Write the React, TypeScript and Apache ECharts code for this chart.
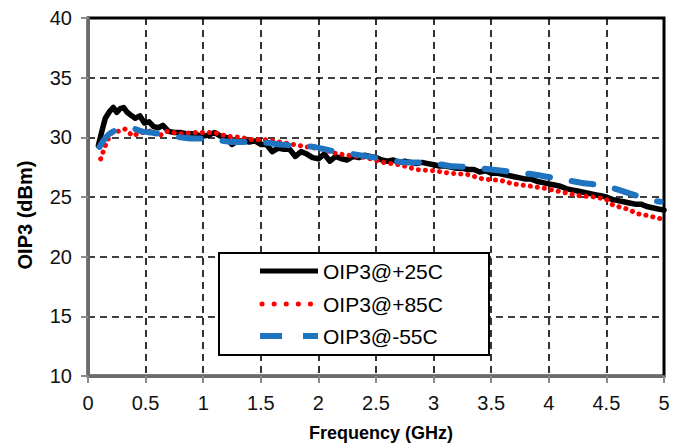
import React, { useEffect, useRef } from "react";
import * as echarts from "echarts";

const freq25 = [0.09,0.12,0.15,0.19,0.22,0.25,0.28,0.31,0.34,0.38,0.41,0.45,0.49,0.53,0.57,0.61,0.65,0.70,0.75,0.80,0.85,0.90,0.95,1.00,1.05,1.10,1.15,1.20,1.25,1.30,1.35,1.40,1.45,1.50,1.55,1.60,1.65,1.70,1.75,1.80,1.85,1.90,1.95,2.00,2.05,2.10,2.15,2.20,2.25,2.30,2.35,2.40,2.45,2.50,2.55,2.60,2.65,2.70,2.75,2.80,2.85,2.90,2.95,3.00,3.05,3.10,3.15,3.20,3.25,3.30,3.35,3.40,3.45,3.50,3.55,3.60,3.65,3.70,3.75,3.80,3.85,3.90,3.95,4.00,4.05,4.10,4.15,4.20,4.25,4.30,4.35,4.40,4.45,4.50,4.55,4.60,4.65,4.70,4.75,4.80,4.85,4.90,4.95,5.00];
const oip25 = [29.3,30.5,31.6,32.2,32.5,32.1,32.4,32.5,32.1,31.8,31.6,31.8,31.2,31.3,30.9,30.8,31.0,30.5,30.4,30.4,30.3,30.3,30.2,30.1,30.2,30.4,30.1,30.0,29.4,29.7,29.7,29.6,29.7,29.4,29.4,28.8,29.1,29.0,29.0,28.4,28.8,28.6,28.3,28.2,28.6,28.0,28.4,28.2,28.1,28.4,28.3,28.5,28.4,28.3,28.1,28.0,28.1,27.9,28.0,27.9,27.8,27.9,27.8,27.7,27.6,27.6,27.5,27.4,27.4,27.3,27.3,27.1,27.2,27.0,27.0,26.9,26.8,26.7,26.6,26.5,26.5,26.3,26.2,26.1,26.0,25.9,25.7,25.6,25.5,25.4,25.3,25.2,25.1,25.0,24.8,24.7,24.6,24.5,24.4,24.4,24.2,24.1,24.0,23.9];

const freq85 = [0.11,0.15,0.19,0.22,0.26,0.32,0.39,0.45,0.51,0.55,0.61,0.69,0.80,0.91,1.00,1.10,1.20,1.32,1.43,1.55,1.67,1.78,1.90,2.04,2.13,2.25,2.42,2.56,2.71,2.85,3.00,3.14,3.29,3.43,3.58,3.69,3.85,3.98,4.12,4.27,4.40,4.50,4.56,4.68,4.77,4.88,4.95,5.00];
const oip85 = [28.2,29.3,30.2,30.5,30.5,30.7,30.1,30.4,30.4,30.6,30.1,30.5,30.3,30.4,30.4,30.4,30.1,30.0,29.8,29.8,29.6,29.4,29.2,29.0,28.7,28.5,28.3,27.9,27.7,27.3,27.2,27.0,26.9,26.5,26.4,26.1,25.9,25.7,25.4,25.1,25.0,24.8,24.3,24.0,23.6,23.4,23.2,23.2];

const freqM55 = [0.10,0.14,0.18,0.22,0.28,0.35,0.41,0.47,0.55,0.65,0.80,0.91,1.00,1.10,1.26,1.47,1.67,1.80,1.96,2.10,2.30,2.49,2.77,2.94,3.14,3.32,3.50,3.69,3.86,4.10,4.28,4.50,4.70,4.90,4.97];
const oipM55 = [29.2,29.8,30.25,30.5,30.75,30.75,30.7,30.5,30.4,30.25,30.0,29.9,29.9,29.8,29.6,29.6,29.4,29.3,29.2,28.9,28.6,28.3,27.9,27.9,27.6,27.5,27.3,27.1,26.9,26.5,26.2,25.9,25.3,24.7,24.6];

const seriesNames = ["OIP3@+25C", "OIP3@+85C", "OIP3@-55C"];
const xTitle = "Frequency (GHz)";
const yTitle = "OIP3 (dBm)";

const pairs = (xs: number[], ys: number[]) => xs.map((x, i) => [x, ys[i]]);

const FONT = "'Liberation Sans', Arial, sans-serif";

export default function App() {
  const ref = useRef<HTMLDivElement>(null);
  useEffect(() => {
    if (!ref.current) return;
    const chart = echarts.init(ref.current, undefined, { renderer: "svg" });
    const legendRows = [271, 304, 336];
    chart.setOption({
      animation: false,
      backgroundColor: "#fff",
      grid: {
        left: 88, top: 18, right: 20, bottom: 69,
        show: true, borderColor: "#000", borderWidth: 3, backgroundColor: "transparent",
      },
      xAxis: {
        type: "value", min: 0, max: 5, interval: 0.5,
        name: xTitle, nameLocation: "middle", nameGap: 48,
        nameTextStyle: { fontFamily: FONT, fontSize: 18, fontWeight: "bold", color: "#000", padding: [0, 0, 0, 10] },
        axisLine: { show: true, lineStyle: { color: "#6b6b6b", width: 3 } },
        axisTick: { show: true, length: 7, lineStyle: { color: "#8a8a8a", width: 2 } },
        axisLabel: { fontFamily: FONT, fontSize: 20, color: "#111", margin: 17 },
        splitLine: { show: true, lineStyle: { color: "#000", width: 1.6, type: [7, 5] } },
      },
      yAxis: {
        type: "value", min: 10, max: 40, interval: 5,
        axisLine: { show: true, lineStyle: { color: "#6b6b6b", width: 3 } },
        axisTick: { show: true, length: 7, lineStyle: { color: "#8a8a8a", width: 2 } },
        axisLabel: { fontFamily: FONT, fontSize: 20, color: "#111", margin: 16 },
        splitLine: { show: true, lineStyle: { color: "#000", width: 1.6, type: [7, 5] } },
      },
      series: [
        {
          name: seriesNames[0], type: "line", data: pairs(freq25, oip25),
          showSymbol: false, symbol: "none", z: 3,
          lineStyle: { color: "#000", width: 5.5, join: "round", cap: "round" },
        },
        {
          name: seriesNames[1], type: "line", data: pairs(freq85, oip85),
          showSymbol: false, symbol: "none", z: 4,
          lineStyle: { color: "#ff0000", width: 5, type: [0.1, 7], cap: "round" },
        },
        {
          name: seriesNames[2], type: "line", data: pairs(freqM55, oipM55),
          showSymbol: false, symbol: "none", z: 5, smooth: 0.2,
          lineStyle: { color: "#1f74c1", width: 6, type: [22, 22], cap: "round" },
        },
      ],
      graphic: [
        {
          type: "text", x: 25, y: 215, rotation: Math.PI / 2, z: 100,
          style: { text: yTitle, fontFamily: FONT, fontSize: 20, fontWeight: "bold", fill: "#000", align: "center", verticalAlign: "middle" },
        },
        {
          type: "rect", z: 100, shape: { x: 219, y: 253, width: 270, height: 102 },
          style: { fill: "#fff", stroke: "#000", lineWidth: 2 },
        },
        {
          type: "line", z: 101, shape: { x1: 260, y1: legendRows[0], x2: 318, y2: legendRows[0] },
          style: { stroke: "#000", lineWidth: 5 },
        },
        {
          type: "line", z: 101, shape: { x1: 262, y1: legendRows[1], x2: 311, y2: legendRows[1] },
          style: { stroke: "#ff0000", lineWidth: 5, lineDash: [0.1, 12], lineCap: "round" },
        },
        {
          type: "line", z: 101, shape: { x1: 260, y1: legendRows[2], x2: 318, y2: legendRows[2] },
          style: { stroke: "#1f74c1", lineWidth: 6, lineDash: [22, 21] },
        },
        ...seriesNames.map((n, i) => ({
          type: "text", z: 101, x: 323, y: legendRows[i],
          style: { text: n, fontFamily: FONT, fontSize: 21, fill: "#000", align: "left", verticalAlign: "middle" },
        })),
      ],
    });
    return () => chart.dispose();
  }, []);
  return <div ref={ref} style={{ position: "absolute", left: 0, top: 0, width: 684, height: 447 }} />;
}
